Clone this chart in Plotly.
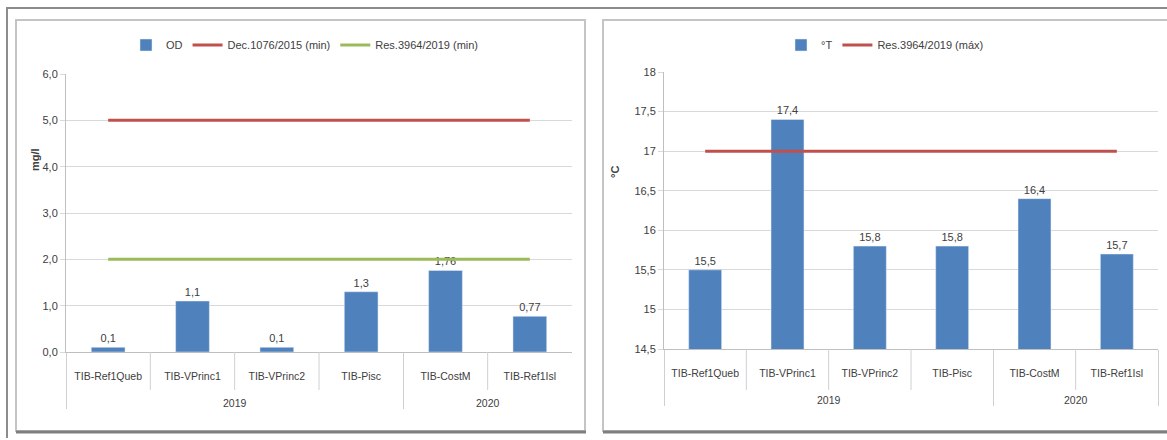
import plotly.graph_objects as go

W, H = 1167, 440

# data
years = ["2019", "2019", "2019", "2019", "2020", "2020"]
stations = ["TIB-Ref1Queb", "TIB-VPrinc1", "TIB-VPrinc2", "TIB-Pisc", "TIB-CostM", "TIB-Ref1Isl"]
od_values = [0.1, 1.1, 0.1, 1.3, 1.76, 0.77]
od_limit_dec1076 = [5.0] * 6
od_limit_res3964 = [2.0] * 6
temp_values = [15.5, 17.4, 15.8, 15.8, 16.4, 15.7]
temp_limit_res3964 = [17.0] * 6

BLUE = "#4F81BD"
RED = "#C0504D"
GREEN = "#9BBB59"
TXT = "#404040"
FONT = "Liberation Sans, Arial, sans-serif"


def px(x):
    return x / W


def py(y):
    return 1 - y / H


def label(v):
    return str(v).replace(".", ",")


# leading line breaks push the year row further down, like in Excel
xcat = [["<br><br>" + y for y in years], stations]

fig = go.Figure()

# left chart: dissolved oxygen
fig.add_trace(go.Bar(
    x=xcat, y=od_values, name="OD", marker_color=BLUE,
    text=[label(v) for v in od_values], textposition="outside",
    textfont=dict(size=11, color=TXT), cliponaxis=False,
    xaxis="x", yaxis="y", legend="legend"
))
fig.add_trace(go.Scatter(
    x=xcat, y=od_limit_dec1076, name="Dec.1076/2015 (min)", mode="lines",
    line=dict(color=RED, width=3), xaxis="x", yaxis="y", legend="legend"
))
fig.add_trace(go.Scatter(
    x=xcat, y=od_limit_res3964, name="Res.3964/2019 (min)", mode="lines",
    line=dict(color=GREEN, width=3), xaxis="x", yaxis="y", legend="legend"
))

# right chart: temperature
fig.add_trace(go.Bar(
    x=xcat, y=temp_values, name="°T", marker_color=BLUE,
    text=[label(v) for v in temp_values], textposition="outside",
    textfont=dict(size=11, color=TXT), cliponaxis=False,
    xaxis="x2", yaxis="y2", legend="legend2"
))
fig.add_trace(go.Scatter(
    x=xcat, y=temp_limit_res3964, name="Res.3964/2019 (máx)", mode="lines",
    line=dict(color=RED, width=3), xaxis="x2", yaxis="y2", legend="legend2"
))

xax = dict(
    type="multicategory", showline=True, linecolor="#bfbfbf", linewidth=1,
    showdividers=True, dividercolor="#d0d0d0", dividerwidth=1,
    tickfont=dict(size=10.5, color=TXT), showgrid=False, fixedrange=True,
    automargin=False, ticklabelstandoff=14
)
yax = dict(
    showline=True, linecolor="#bfbfbf", linewidth=1,
    showgrid=True, gridcolor="#d9d9d9", gridwidth=1,
    ticks="outside", ticklen=5, tickcolor="#d9d9d9",
    tickfont=dict(size=11, color=TXT), zeroline=False, fixedrange=True,
    automargin=False
)

shapes = [
    dict(type="line", xref="paper", yref="paper", x0=px(6), x1=px(W), y0=py(8), y1=py(8),
         line=dict(color="#8c8c8c", width=2)),
    dict(type="line", xref="paper", yref="paper", x0=px(7), x1=px(7), y0=py(8), y1=py(438),
         line=dict(color="#8c8c8c", width=2)),
    dict(type="rect", xref="paper", yref="paper", x0=px(16), x1=px(585), y0=py(20), y1=py(431),
         line=dict(color="#c4c4c4", width=2)),
    dict(type="line", xref="paper", yref="paper", x0=px(16), x1=px(586), y0=py(432), y1=py(432),
         line=dict(color="#7f7f7f", width=3)),
    dict(type="rect", xref="paper", yref="paper", x0=px(603), x1=px(W + 5), y0=py(20), y1=py(431),
         line=dict(color="#c4c4c4", width=2)),
    dict(type="line", xref="paper", yref="paper", x0=px(603), x1=px(W), y0=py(432), y1=py(432),
         line=dict(color="#7f7f7f", width=3)),
]

# short separators between stations inside the same year group
for xa, ya in (("x", py(352)), ("x2", py(349))):
    for i in range(len(stations) - 1):
        if years[i] == years[i + 1]:
            shapes.append(dict(type="line", xref=xa, yref="paper", x0=i + 0.5, x1=i + 0.5,
                               y0=ya, y1=py(390), line=dict(color="#d0d0d0", width=1)))

fig.update_layout(
    width=W, height=H,
    margin=dict(l=0, r=0, t=0, b=0, autoexpand=False),
    paper_bgcolor="white", plot_bgcolor="white",
    font=dict(family=FONT, size=11, color=TXT),
    separators=",.",
    bargap=0.6,
    showlegend=True,
    xaxis=dict(xax, domain=[px(66), px(572)], anchor="y"),
    yaxis=dict(yax, domain=[py(352), py(74)], range=[0, 6], dtick=1, tickformat=".1f", anchor="x"),
    xaxis2=dict(xax, domain=[px(664), px(1158)], anchor="y2"),
    yaxis2=dict(yax, domain=[py(349), py(72)], range=[14.5, 18], dtick=0.5, anchor="x2"),
    legend=dict(orientation="h", x=px(305), xanchor="center", y=py(45), yanchor="middle",
                font=dict(size=11, color=TXT), bgcolor="rgba(0,0,0,0)"),
    legend2=dict(orientation="h", x=px(885), xanchor="center", y=py(45), yanchor="middle",
                 font=dict(size=11, color=TXT), bgcolor="rgba(0,0,0,0)"),
    shapes=shapes,
    annotations=[
        dict(text="<b>mg/l</b>", x=px(27), y=py(160), xref="paper", yref="paper",
             textangle=-90, showarrow=False, font=dict(size=11, color=TXT)),
        dict(text="<b>°C</b>", x=px(615), y=py(172), xref="paper", yref="paper",
             textangle=-90, showarrow=False, font=dict(size=11, color=TXT)),
    ],
)

fig.write_html(
    "out.html",
    config={"displayModeBar": False},
    post_script="document.body.style.margin='0';document.body.style.overflow='hidden';",
)
